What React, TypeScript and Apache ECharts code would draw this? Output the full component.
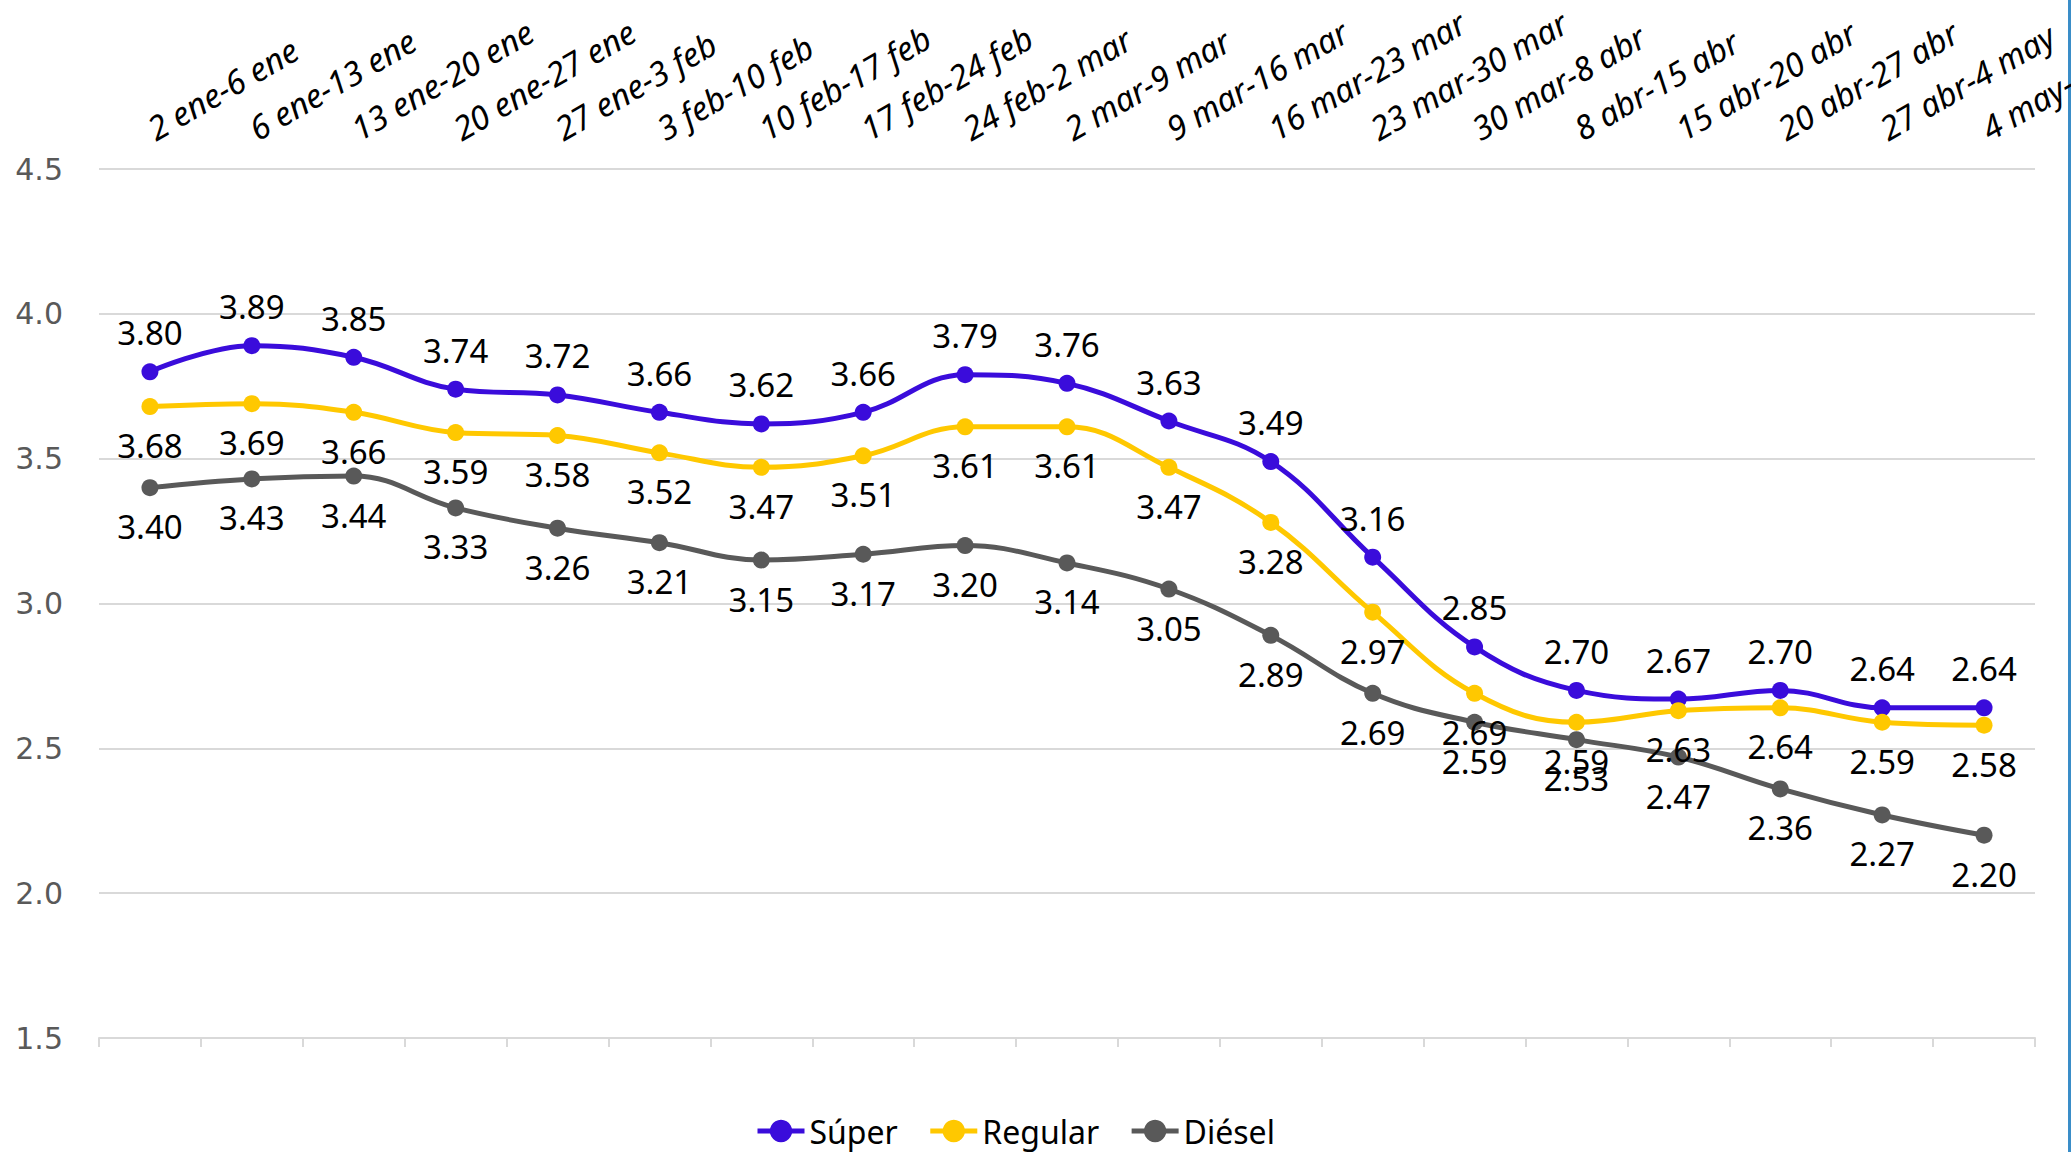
import React, { useEffect, useRef } from "react";
import * as echarts from "echarts";

const categories = [
  "2 ene-6 ene", "6 ene-13 ene", "13 ene-20 ene", "20 ene-27 ene", "27 ene-3 feb",
  "3 feb-10 feb", "10 feb-17 feb", "17 feb-24 feb", "24 feb-2 mar", "2 mar-9 mar",
  "9 mar-16 mar", "16 mar-23 mar", "23 mar-30 mar", "30 mar-8 abr", "8 abr-15 abr",
  "15 abr-20 abr", "20 abr-27 abr", "27 abr-4 may", "4 may-11 may",
];
const superValues = [3.80, 3.89, 3.85, 3.74, 3.72, 3.66, 3.62, 3.66, 3.79, 3.76, 3.63, 3.49, 3.16, 2.85, 2.70, 2.67, 2.70, 2.64, 2.64];
const regularValues = [3.68, 3.69, 3.66, 3.59, 3.58, 3.52, 3.47, 3.51, 3.61, 3.61, 3.47, 3.28, 2.97, 2.69, 2.59, 2.63, 2.64, 2.59, 2.58];
const dieselValues = [3.40, 3.43, 3.44, 3.33, 3.26, 3.21, 3.15, 3.17, 3.20, 3.14, 3.05, 2.89, 2.69, 2.59, 2.53, 2.47, 2.36, 2.27, 2.20];
const yTicks = { min: 1.5, max: 4.5, interval: 0.5 };

const FONT = "Noto Sans";

function makeSeries(name: string, data: number[], color: string, pos: "top" | "bottom") {
  return {
    name,
    type: "line",
    data,
    xAxisIndex: 0,
    smooth: 0.4,
    symbol: "circle",
    symbolSize: 17,
    lineStyle: { width: 5, color },
    itemStyle: { color },
    label: {
      show: true,
      position: pos,
      distance: 14,
      color: "#000000",
      fontFamily: FONT,
      fontSize: 33,
      formatter: (p: any) => Number(p.value).toFixed(2),
    },
  };
}

export default function App() {
  const ref = useRef<HTMLDivElement>(null);
  useEffect(() => {
    if (!ref.current) return;
    const chart = echarts.init(ref.current, null, { renderer: "svg" });
    chart.setOption({
      animation: false,
      backgroundColor: "#ffffff",
      grid: { left: 99, right: 36, top: 169, bottom: 114, containLabel: false, outerBoundsMode: "none" },
      legend: {
        bottom: 0,
        left: 750,
        itemWidth: 47,
        itemHeight: 28,
        itemGap: 30,
        lineStyle: { width: 5 },
        textStyle: { fontFamily: FONT, fontSize: 32, color: "#000000" },
        data: ["Súper", "Regular", "Diésel"],
      },
      xAxis: [
        {
          type: "category",
          data: categories,
          position: "top",
          boundaryGap: true,
          axisLine: { show: false },
          axisTick: { show: false },
          axisLabel: {
            interval: 0,
            rotate: -30,
            margin: 38,
            fontFamily: FONT,
            fontStyle: "italic",
            fontSize: 33,
            color: "#000000",
          },
        },
        {
          type: "category",
          data: categories,
          position: "bottom",
          boundaryGap: true,
          axisLine: { show: true, lineStyle: { color: "#D9D9D9", width: 2 } },
          axisTick: { show: true, interval: 0, length: 9, lineStyle: { color: "#D9D9D9", width: 2 } },
          axisLabel: { show: false },
        },
      ],
      yAxis: {
        type: "value",
        min: yTicks.min,
        max: yTicks.max,
        interval: yTicks.interval,
        axisLine: { show: false },
        axisTick: { show: false },
        splitLine: { lineStyle: { color: "#D9D9D9", width: 2 } },
        axisLabel: {
          margin: 36,
          fontFamily: "DejaVu Sans",
          fontSize: 30,
          color: "#595959",
          formatter: (v: number) => v.toFixed(1),
        },
      },
      graphic: [
        { type: "rect", right: 0, top: 0, shape: { width: 3, height: 1152 }, style: { fill: "#3A8DC8" } },
      ],
      series: [
        makeSeries("Súper", superValues, "#3A0CDB", "top"),
        makeSeries("Regular", regularValues, "#FFC800", "bottom"),
        makeSeries("Diésel", dieselValues, "#595959", "bottom"),
      ],
    });
    return () => chart.dispose();
  }, []);
  return (
    <div
      ref={ref}
      style={{ position: "absolute", left: 0, top: 0, width: 2071, height: 1152 }}
    />
  );
}
